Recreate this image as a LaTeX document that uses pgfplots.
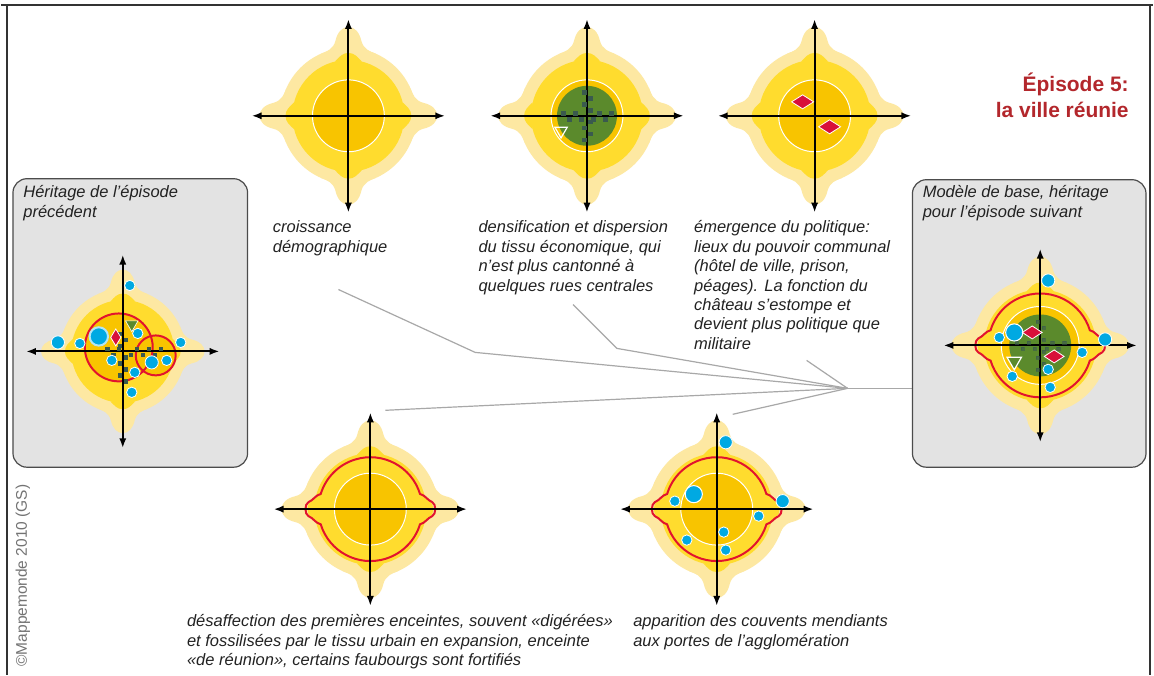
\documentclass[border=0pt]{standalone}
\usepackage{pgfplots}
\pgfplotsset{compat=1.18}
\usepackage{fontspec}
\setmainfont{Liberation Sans}
\usetikzlibrary{arrows.meta}
\definecolor{clight}{HTML}{FDE8A2}
\definecolor{cmid}{HTML}{FFDC2E}
\definecolor{corange}{HTML}{F8C400}
\definecolor{cgreen}{HTML}{5B8A2C}
\definecolor{cpat}{HTML}{3A5A4E}
\definecolor{cred}{HTML}{E2132E}
\definecolor{cdia}{HTML}{D8103A}
\definecolor{cblue}{HTML}{00A9E2}
\definecolor{cbox}{HTML}{E3E3E3}
\definecolor{cline}{HTML}{A8A8A8}
\definecolor{ctitle}{HTML}{B3272C}
\definecolor{ctext}{HTML}{222222}

\newcommand{\lobe}[2]{\fill[#1,rotate=#2] (-24:68) .. controls (64,-22) and (67,-15) .. (75,-13) .. controls (84,-11) and (89,-6) .. (89,0) .. controls (89,6) and (84,11) .. (75,13) .. controls (67,15) and (64,22) .. (24:68) -- cycle;}
\newcommand{\bump}[1]{\fill[cmid,rotate=#1] (-14:56) .. controls (59,-9) and (63,-6) .. (63,0) .. controls (63,6) and (59,9) .. (14:56) -- cycle;}
\newcommand{\base}{%
 \fill[clight] (0,0) circle[radius=34pt];
 \lobe{clight}{0}\lobe{clight}{90}\lobe{clight}{180}\lobe{clight}{270}%
 \fill[cmid] (0,0) circle[radius=28pt];
 \bump{0}\bump{90}\bump{180}\bump{270}%
}
\newcommand{\inner}[1]{\filldraw[fill=corange,draw=white,line width=0.5pt] (0,0) circle[radius=#1];}
\newcommand{\axarrows}{%
 \draw[line width=1pt,{Latex[length=5pt,width=3.6pt]}-{Latex[length=5pt,width=3.6pt]}] (-97,0) -- (97,0);
 \draw[line width=1pt,{Latex[length=5pt,width=3.6pt]}-{Latex[length=5pt,width=3.6pt]}] (0,-97) -- (0,97);}
\newcommand{\redwall}{\draw[cred,line width=1pt] (17:52) arc[start angle=17,end angle=163,radius=52] .. controls (-55,14) and (-57,9) .. (-62,7) .. controls (-66,5) and (-66,-5) .. (-62,-7) .. controls (-57,-9) and (-55,-14) .. (197:52) arc[start angle=197,end angle=343,radius=52] .. controls (55,-14) and (57,-9) .. (62,-7) .. controls (66,-5) and (66,5) .. (62,7) .. controls (57,9) and (55,14) .. cycle;}
\newcommand{\capfont}{\fontsize{8.25}{9.75}\selectfont\itshape}

\begin{document}
\begin{tikzpicture}
\begin{axis}[
  x=0.5pt, y=0.5pt, xmin=0, xmax=1154, ymin=0, ymax=676,
  y dir=reverse, hide axis, clip=false, scale only axis]
\fill[white] (axis cs:0,0) rectangle (axis cs:1154,676);
% frame
\draw[line width=1pt, black!80] (axis cs:0,5) -- (axis cs:1154,5);
\draw[line width=1pt, black!80] (axis cs:6,5) -- (axis cs:6,676);
\draw[line width=1pt, black!80] (axis cs:1151,5) -- (axis cs:1151,676);
% connector lines
\addplot[cline, line width=0.6pt] coordinates {(338,290) (475,353) (848,389)};
\addplot[cline, line width=0.6pt] coordinates {(573,305) (617,349) (848,389)};
\addplot[cline, line width=0.6pt] coordinates {(807,361) (848,389)};
\addplot[cline, line width=0.6pt] coordinates {(385,411) (848,389)};
\addplot[cline, line width=0.6pt] coordinates {(733,415) (848,389)};
\addplot[cline, line width=0.6pt] coordinates {(848,389) (913,389)};
% boxes
\draw[fill=cbox, draw=black!70, line width=0.6pt, rounded corners=7pt] (axis cs:12,179) rectangle (axis cs:247,468);
\draw[fill=cbox, draw=black!70, line width=0.6pt, rounded corners=7pt] (axis cs:913,180) rectangle (axis cs:1147,468);
% T1
\begin{scope}[shift={(axis cs:348,116)},x=0.5pt,y=0.5pt]
 \base \inner{18pt} \axarrows
\end{scope}
% T2
\begin{scope}[shift={(axis cs:587,116)},x=0.5pt,y=0.5pt]
 \base \inner{18pt} \fill[cgreen] (0,0) circle[radius=15pt]; \axarrows
\end{scope}
% T3
\begin{scope}[shift={(axis cs:815,116)},x=0.5pt,y=0.5pt]
 \base \inner{18pt} \axarrows
\end{scope}
% B1
\begin{scope}[shift={(axis cs:370,510)},x=0.5pt,y=0.5pt]
 \base \inner{18pt} \redwall \axarrows
\end{scope}
% B2
\begin{scope}[shift={(axis cs:717,510)},x=0.5pt,y=0.5pt]
 \base \inner{18pt} \redwall \axarrows
\end{scope}
% L
\begin{scope}[shift={(axis cs:122,352)},x=0.5pt,y=0.5pt]
 \begin{scope}[scale=0.92] \base \end{scope}
 \fill[corange] (-4,4) circle[radius=17pt];
 \fill[corange] (33,-4) circle[radius=10pt];
 \draw[cred,line width=1pt] (-4,4) circle[radius=17pt];
 \draw[cred,line width=1pt] (33,-4) circle[radius=10pt];
 \axarrows
\end{scope}
% R
\begin{scope}[shift={(axis cs:1041,346)},x=0.5pt,y=0.5pt]
 \base \inner{19.5pt} \fill[cgreen] (0,0) circle[radius=15.5pt]; \redwall \axarrows
\end{scope}
% patterns
\addplot[only marks, mark=square*, mark size=0.9pt, mark options={fill=cpat, draw=cpat, line width=0.1pt}] coordinates {
 (563,113) (569,119) (575,113) (581,119) (593,119) (599,113) (605,119) (611,113)
 (584,92) (590,98) (584,104) (590,110) (590,122) (584,128) (590,134) (584,140)
 (106,349) (112,355) (118,349) (130,355) (136,349) (142,355) (148,349) (154,355) (160,349)
 (119,334) (125,340) (119,346) (125,358) (119,364) (125,370) (119,376) (125,382)};
\addplot[only marks, mark=square*, mark size=0.8pt, mark options={fill=cpat, draw=cpat, line width=0.1pt, opacity=0.6}] coordinates {
 (1017,343) (1023,349) (1029,343) (1035,349) (1047,349) (1053,343) (1059,349) (1065,343)
 (1038,322) (1044,328) (1038,334) (1044,340) (1044,352) (1038,358) (1044,364) (1038,370)};
% blue dots
\addplot[only marks, mark=*, mark size=2.6pt, mark options={fill=cblue, draw=white, line width=0.4pt}] coordinates {
 (129,286) (79,344) (137,334) (180,343) (111,361) (166,361) (134,373) (131,393)
 (1000,338) (1083,353) (1049,370) (1013,377) (1051,388)
 (675,502) (759,517) (724,533) (687,541) (726,551)};
\addplot[only marks, mark=*, mark size=3.3pt, mark options={fill=cblue, draw=white, line width=0.4pt}] coordinates {
 (57,343) (151,363) (1049,281) (1106,340) (726,443) (783,502)};
\addplot[only marks, mark=*, mark size=4.3pt, mark options={fill=cblue, draw=white, line width=0.5pt}] coordinates {
 (1015,333) (694,495)};
\addplot[only marks, mark=*, mark size=4.6pt, mark options={fill=cblue, draw=cblue!30, line width=1pt}] coordinates {
 (98,337)};
% diamonds
\addplot[only marks, mark=diamond*, mark size=5pt, mark options={fill=cdia, draw=white, line width=0.4pt, xscale=1.47, yscale=0.7}] coordinates {
 (803,102) (830,127)};
\addplot[only marks, mark=diamond*, mark size=4.5pt, mark options={fill=cdia, draw=white, line width=0.4pt, xscale=1.47, yscale=0.72}] coordinates {
 (1033,333) (1055,357)};
\addplot[only marks, mark=diamond*, mark size=4.25pt, mark options={fill=cdia, draw=white, line width=0.4pt, xscale=0.8}] coordinates {
 (115,338)};
% triangles
\addplot[only marks, mark=triangle, mark size=3.6pt, mark options={draw=white, line width=0.6pt, rotate=180}] coordinates {(561,131)};
\addplot[only marks, mark=triangle*, mark size=4.2pt, mark options={fill=cgreen, draw=white, line width=0.6pt, rotate=180}] coordinates {(1015,362)};
\addplot[only marks, mark=triangle*, mark size=3.6pt, mark options={fill=cgreen, draw=white, line width=0.3pt, rotate=180}] coordinates {(131,325)};
% texts
\begin{scope}[every node/.style={anchor=base west, inner sep=0pt, font=\capfont, text=ctext}]
\node at (axis cs:272,233) {croissance};
\node at (axis cs:272,252.5) {démographique};
\node at (axis cs:478,233) {densification et dispersion};
\node at (axis cs:478,252.5) {du tissu économique, qui};
\node at (axis cs:478,272) {n'est plus cantonné à};
\node at (axis cs:478,291.5) {quelques rues centrales};
\node at (axis cs:694,233) {émergence du politique:};
\node at (axis cs:694,252.5) {lieux du pouvoir communal};
\node at (axis cs:694,272) {(hôtel de ville, prison,};
\node at (axis cs:694,291.5) {péages). La fonction du};
\node at (axis cs:694,311) {château s'estompe et};
\node at (axis cs:694,330.5) {devient plus politique que};
\node at (axis cs:694,350) {militaire};
\node at (axis cs:22,198) {Héritage de l'épisode};
\node at (axis cs:22,217.5) {précédent};
\node at (axis cs:923,198) {Modèle de base, héritage};
\node at (axis cs:923,217.5) {pour l'épisode suivant};
\node at (axis cs:186,628) {désaffection des premières enceintes, souvent «digérées»};
\node at (axis cs:186,647.5) {et fossilisées par le tissu urbain en expansion, enceinte};
\node at (axis cs:186,667) {«de réunion», certains faubourgs sont fortifiés};
\node at (axis cs:633,628) {apparition des couvents mendiants};
\node at (axis cs:633,647.5) {aux portes de l'agglomération};
\end{scope}
\node[anchor=base east, inner sep=0pt, font=\fontsize{10.5}{13}\selectfont\bfseries, text=ctitle] at (axis cs:1130,92) {Épisode 5:};
\node[anchor=base east, inner sep=0pt, font=\fontsize{10.5}{13}\selectfont\bfseries, text=ctitle] at (axis cs:1130,118) {la ville réunie};
\node[anchor=base west, inner sep=0pt, rotate=90, font=\fontsize{7.75}{9}\selectfont, text=black!55] at (axis cs:26,668) {©Mappemonde 2010 (GS)};
\end{axis}
\end{tikzpicture}
\end{document}
